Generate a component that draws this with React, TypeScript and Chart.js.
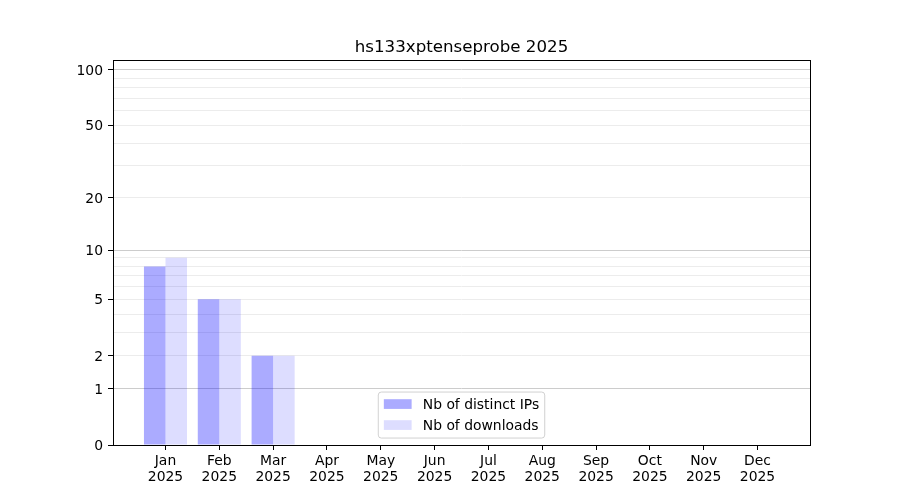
import React, { useEffect, useRef } from 'react';
import { Chart, registerables, LinearScale } from 'chart.js';

// ---- data ----
const TITLE = 'hs133xptenseprobe 2025';
const MONTHS = ['Jan', 'Feb', 'Mar', 'Apr', 'May', 'Jun', 'Jul', 'Aug', 'Sep', 'Oct', 'Nov', 'Dec'];
const YEAR = '2025';
const DISTINCT_IPS = [8, 5, 2, 0, 0, 0, 0, 0, 0, 0, 0, 0];
const DOWNLOADS = [9, 5, 2, 0, 0, 0, 0, 0, 0, 0, 0, 0];
const SERIES_LABELS = ['Nb of distinct IPs', 'Nb of downloads'];
const Y_LABELED_TICKS = [0, 1, 2, 5, 10, 20, 50, 100];
const Y_MINOR_TICKS = [3, 4, 6, 7, 8, 9, 30, 40, 60, 70, 80, 90];
const Y_MAJOR_GRID = [1, 10, 100];
const Y_MAX = 113;
const X_MIN = -0.975;
const X_MAX = 11.975;

const FONT = '"DejaVu Sans", "Liberation Sans", sans-serif';
const TICK_SIZE = 13.9;
const TEXT_NUDGE = 1.5;

// log(1 + x) scale, as in the reference
class Log1pScale extends LinearScale {
  static id = 'log1p';
  static defaults = {};
  buildTicks() {
    const vals = [...Y_LABELED_TICKS, ...Y_MINOR_TICKS]
      .sort((a, b) => a - b)
      .filter((v) => v >= (this as any).min && v <= (this as any).max);
    return vals.map((value) => ({ value }));
  }
  getPixelForValue(value: number) {
    const self = this as any;
    const lo = Math.log10(self.min + 1);
    const hi = Math.log10(self.max + 1);
    const v = Math.log10(Math.max(value, 0) + 1);
    return self.getPixelForDecimal((v - lo) / (hi - lo));
  }
  getValueForPixel(pixel: number) {
    const self = this as any;
    const lo = Math.log10(self.min + 1);
    const hi = Math.log10(self.max + 1);
    const d = self.getDecimalForPixel(pixel);
    return Math.pow(10, lo + d * (hi - lo)) - 1;
  }
  _computeLabelItems(chartArea: any) {
    const items = (LinearScale.prototype as any)._computeLabelItems.call(this, chartArea);
    items.forEach((it: any) => {
      if (it && it.options && Array.isArray(it.options.translation)) {
        it.options.translation = [it.options.translation[0], it.options.translation[1] + TEXT_NUDGE];
      }
    });
    return items;
  }
}

Chart.register(...registerables, Log1pScale as any);

const framePlugin = {
  id: 'frameAndLegend',
  afterDraw(chart: any) {
    const { ctx, chartArea } = chart;
    const { left, right, top, bottom } = chartArea;
    ctx.save();
    // spines
    ctx.strokeStyle = '#000';
    ctx.lineWidth = 1;
    ctx.strokeRect(Math.round(left) + 0.5, Math.round(top) + 0.5, Math.round(right - left), Math.round(bottom - top));

    // legend (lower center inside axes)
    const em = TICK_SIZE;
    ctx.font = `${em}px ${FONT}`;
    const datasets = chart.data.datasets;
    let textW = 0;
    datasets.forEach((d: any) => {
      textW = Math.max(textW, ctx.measureText(d.label).width);
    });
    const borderPad = 0.4 * em;
    const handleLen = 2 * em;
    const handlePad = 0.8 * em;
    const rowH = 21;
    const boxW = borderPad + handleLen + handlePad + textW + borderPad;
    const boxH = 46;
    const cx = (left + right) / 2;
    const bx = cx - boxW / 2;
    const by = bottom - 0.5 * em - boxH;
    const r = 3;
    ctx.beginPath();
    ctx.moveTo(bx + r, by);
    ctx.lineTo(bx + boxW - r, by);
    ctx.quadraticCurveTo(bx + boxW, by, bx + boxW, by + r);
    ctx.lineTo(bx + boxW, by + boxH - r);
    ctx.quadraticCurveTo(bx + boxW, by + boxH, bx + boxW - r, by + boxH);
    ctx.lineTo(bx + r, by + boxH);
    ctx.quadraticCurveTo(bx, by + boxH, bx, by + boxH - r);
    ctx.lineTo(bx, by + r);
    ctx.quadraticCurveTo(bx, by, bx + r, by);
    ctx.closePath();
    ctx.fillStyle = 'rgba(255,255,255,0.8)';
    ctx.fill();
    ctx.strokeStyle = 'rgba(204,204,204,0.9)';
    ctx.lineWidth = 1;
    ctx.stroke();

    datasets.forEach((d: any, i: number) => {
      const rowC = by + 12 + i * rowH;
      ctx.fillStyle = d.backgroundColor;
      ctx.fillRect(bx + borderPad, rowC - 0.35 * em, handleLen, 0.7 * em);
      ctx.fillStyle = '#000';
      ctx.textAlign = 'left';
      ctx.textBaseline = 'middle';
      ctx.fillText(d.label, bx + borderPad + handleLen + handlePad, rowC + TEXT_NUDGE);
    });
    ctx.restore();
  },
};

export default function App() {
  const canvasRef = useRef<HTMLCanvasElement | null>(null);

  useEffect(() => {
    document.body.style.margin = '0';
    const canvas = canvasRef.current;
    if (!canvas) return;
    const chart = new Chart(canvas, {
      type: 'bar',
      data: {
        datasets: [
          {
            label: SERIES_LABELS[0],
            data: DISTINCT_IPS.map((y, i) => ({ x: i, y })),
            backgroundColor: 'rgba(0,0,255,0.33)',
            borderWidth: 0,
            categoryPercentage: 0.8,
            barPercentage: 1.0,
          },
          {
            label: SERIES_LABELS[1],
            data: DOWNLOADS.map((y, i) => ({ x: i, y })),
            backgroundColor: 'rgba(0,0,255,0.135)',
            borderWidth: 0,
            categoryPercentage: 0.8,
            barPercentage: 1.0,
          },
        ],
      } as any,
      options: {
        animation: false,
        responsive: true,
        maintainAspectRatio: false,
        layout: { padding: { top: 0, right: 90, bottom: 0, left: 0 } },
        plugins: {
          legend: { display: false },
          tooltip: { enabled: false },
          title: {
            display: true,
            text: TITLE,
            fullSize: false,
            color: '#000',
            font: { family: FONT, size: 16.67, weight: 'normal', lineHeight: 1.2 },
            padding: { top: 38, bottom: 2 },
          },
        },
        scales: {
          x: {
            type: 'linear',
            min: X_MIN,
            max: X_MAX,
            offset: false,
            afterBuildTicks: (scale: any) => {
              scale.ticks = MONTHS.map((_, i) => ({ value: i }));
            },
            afterFit: (scale: any) => {
              scale.height = 55;
            },
            border: { display: false },
            grid: { offset: false, drawOnChartArea: false, drawTicks: true, tickLength: 5, tickColor: '#000', tickWidth: 1 },
            ticks: {
              autoSkip: false,
              maxRotation: 0,
              padding: 3,
              color: '#000',
              font: { family: FONT, size: TICK_SIZE, lineHeight: 1.15 },
              callback: (v: any) => [MONTHS[Math.round(v)] ?? '', YEAR],
            },
          },
          y: {
            type: 'log1p' as any,
            min: 0,
            max: Y_MAX,
            afterFit: (scale: any) => {
              scale.width = 113;
            },
            border: { display: false },
            grid: {
              drawTicks: true,
              tickLength: 5,
              tickWidth: 1,
              lineWidth: 1,
              color: (ctx: any) => {
                const v = ctx.tick?.value;
                if (v === 0) return 'rgba(0,0,0,0)';
                return Y_MAJOR_GRID.includes(v) ? '#cccccc' : '#ececec';
              },
              tickColor: (ctx: any) => {
                const v = ctx.tick?.value;
                return Y_LABELED_TICKS.includes(v) ? '#000' : 'rgba(0,0,0,0)';
              },
            },
            ticks: {
              autoSkip: false,
              padding: 5,
              color: '#000',
              font: { family: FONT, size: TICK_SIZE },
              callback: (v: any) => (Y_LABELED_TICKS.includes(v) ? String(v) : ''),
            },
          },
        },
      } as any,
      plugins: [framePlugin],
    });
    return () => chart.destroy();
  }, []);

  return (
    <div style={{ width: 900, height: 500, position: 'relative' }}>
      <canvas ref={canvasRef} />
    </div>
  );
}
